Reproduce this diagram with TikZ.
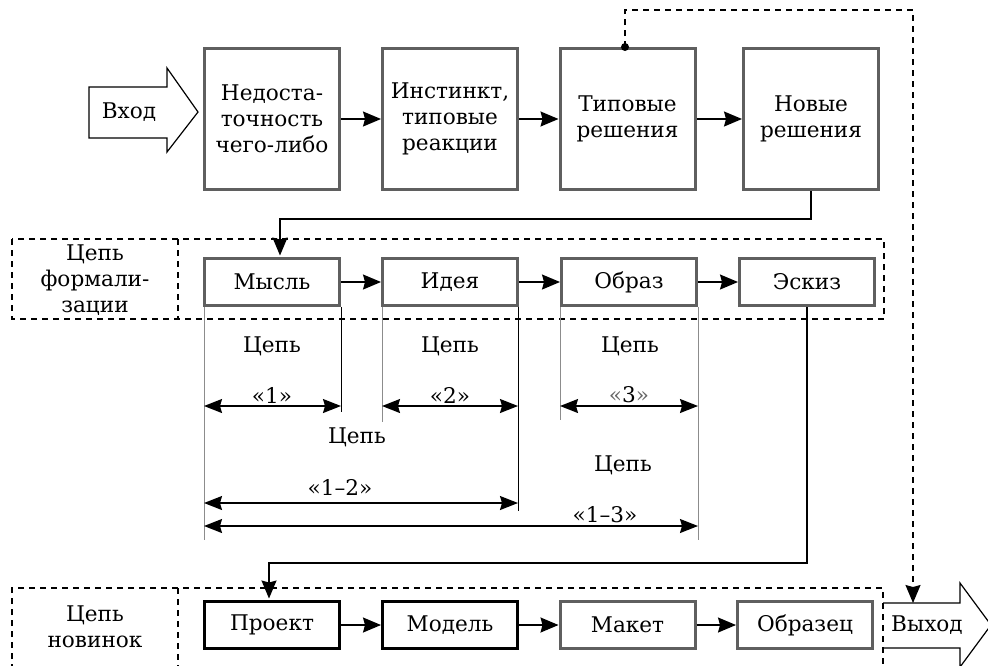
\documentclass[tikz,border=0pt]{standalone}
\usepackage{fontspec}
\setmainfont{DejaVu Serif}
\usetikzlibrary{arrows.meta,positioning,calc}
\definecolor{boxgray}{RGB}{95,95,95}
\definecolor{guidegray}{RGB}{140,140,140}

\begin{document}
\begin{tikzpicture}[x=0.5pt, y=-0.5pt,
    block/.style={rectangle, draw=boxgray, line width=1.5pt, minimum width=67.5pt, minimum height=70.5pt, align=center, font=\fontsize{10.8}{13}\selectfont},
    link/.style={rectangle, draw=boxgray, line width=1.5pt, minimum width=67.5pt, minimum height=23.5pt, font=\fontsize{10.8}{13}\selectfont},
    novel/.style={link, draw=black},
    frame/.style={dash pattern=on 3pt off 2.5pt, line width=0.6pt},
    arrow/.style={-{Stealth[length=9pt,width=7.5pt,inset=1pt]}, line width=0.7pt},
    dimarrow/.style={{Stealth[length=9pt,width=7pt,inset=1pt]}-{Stealth[length=9pt,width=7pt,inset=1pt]}, line width=0.7pt},
    guide/.style={draw=guidegray, line width=0.5pt},
    caption/.style={font=\fontsize{10.8}{13}\selectfont, align=center}
]
\clip (0,0) rectangle (988,665);

% Input arrow
\node[caption] (vhod) at (129,112) {Вход};
\draw[line width=0.6pt] (89,87) -- (167,87) -- (167,68) -- (198,112) -- (167,152) -- (167,138) -- (89,138) -- cycle;

% Top row
\node[block] (lack) at (272,119) {Недоста-\\точность\\чего-либо};
\node[block] (instinct) at (450,119) {Инстинкт,\\типовые\\реакции};
\node[block] (typical) at (627.5,119) {Типовые\\решения};
\node[block] (newsol) at (811,119) {Новые\\решения};

\draw[arrow] (lack) -- (instinct);
\draw[arrow] (instinct) -- (typical);
\draw[arrow] (typical) -- (newsol);

% Formalization chain
\draw[frame] (12,239) rectangle (884,319);
\draw[frame] (178,239) -- (178,319);
\node[caption] (formcap) at (95,280) {Цепь\\формали-\\зации};

\node[link] (thought) at (272,282) {Мысль};
\node[link] (idea) at (450,282) {Идея};
\node[link] (image) at (629,282) {Образ};
\node[link] (sketch) at (807,282) {Эскиз};

\draw[arrow] (thought) -- (idea);
\draw[arrow] (idea) -- (image);
\draw[arrow] (image) -- (sketch);

\draw[arrow] (newsol.south) -- (newsol.south |- 0,219) -- (280,219) -- (280,255.5);

% Chain spans
\draw[guide] (204,307) -- (204,540);
\draw[line width=0.5pt] (341,307) -- (341,412);
\draw[guide] (382,307) -- (382,422);
\draw[line width=0.5pt] (518,307) -- (518,511);
\draw[guide] (560,307) -- (560,420);
\draw[guide] (698,307) -- (698,540);

\coordinate (s1a) at (204,406); \coordinate (s1b) at (341,406);
\coordinate (s2a) at (382,406); \coordinate (s2b) at (518,406);
\coordinate (s3a) at (560,406); \coordinate (s3b) at (698,406);
\coordinate (s12a) at (204,503); \coordinate (s12b) at (518,503);
\coordinate (s13a) at (204,526); \coordinate (s13b) at (698,526);

\draw[dimarrow] (s1a) -- (s1b);
\draw[dimarrow] (s2a) -- (s2b);
\draw[dimarrow] (s3a) -- (s3b);
\draw[dimarrow] (s12a) -- (s12b);
\draw[dimarrow] (s13a) -- (s13b);

\node[caption] (c1) at (272,346) {Цепь};
\node[caption] (n1) at (272,395) {«1»};
\node[caption] (c2) at (450,346) {Цепь};
\node[caption] (n2) at (450,395) {«2»};
\node[caption] (c3) at (630,346) {Цепь};
\node[caption, text=black!60] (n3) at (629,395) {«\textcolor{black}{3}»};
\node[caption] (c12) at (357,437) {Цепь};
\node[caption] (n12) at (340,487) {«1–2»};
\node[caption] (c13) at (623,465) {Цепь};
\node[caption] (n13) at (605,515) {«1–3»};

% Novelty chain
\draw[frame] (12,670) -- (12,588) -- (883,588) -- (883,670);
\draw[frame] (178,588) -- (178,670);
\node[caption] (novcap) at (95,627) {Цепь\\новинок};

\node[novel] (project) at (272,625) {Проект};
\node[novel] (model) at (450,625) {Модель};
\node[link] (mockup) at (627.5,625) {Макет};
\node[link] (sample) at (805,625) {Образец};

\draw[arrow] (project) -- (model);
\draw[arrow] (model) -- (mockup);
\draw[arrow] (mockup) -- (sample);

\draw[arrow] (sketch.south) -- (sketch.south |- 0,563) -- (269,563) -- (269,598.5);

% Output arrow
\draw[line width=0.6pt] (883,603) -- (960,603) -- (960,583) -- (991,625) -- (960,667) -- (960,648) -- (883,648);
\node[caption] (vyhod) at (927,625) {Выход};
\coordinate (vyhodtop) at (913,603);

% Dashed feedback
\fill (typical.north) ++(-2.5,0) circle (4);
\draw[arrow, dash pattern=on 3pt off 2.5pt] ($(typical.north)+(-2.5,0)$) -- ++(0,-37) -- (913,10) -- (vyhodtop);

\end{tikzpicture}
\end{document}
